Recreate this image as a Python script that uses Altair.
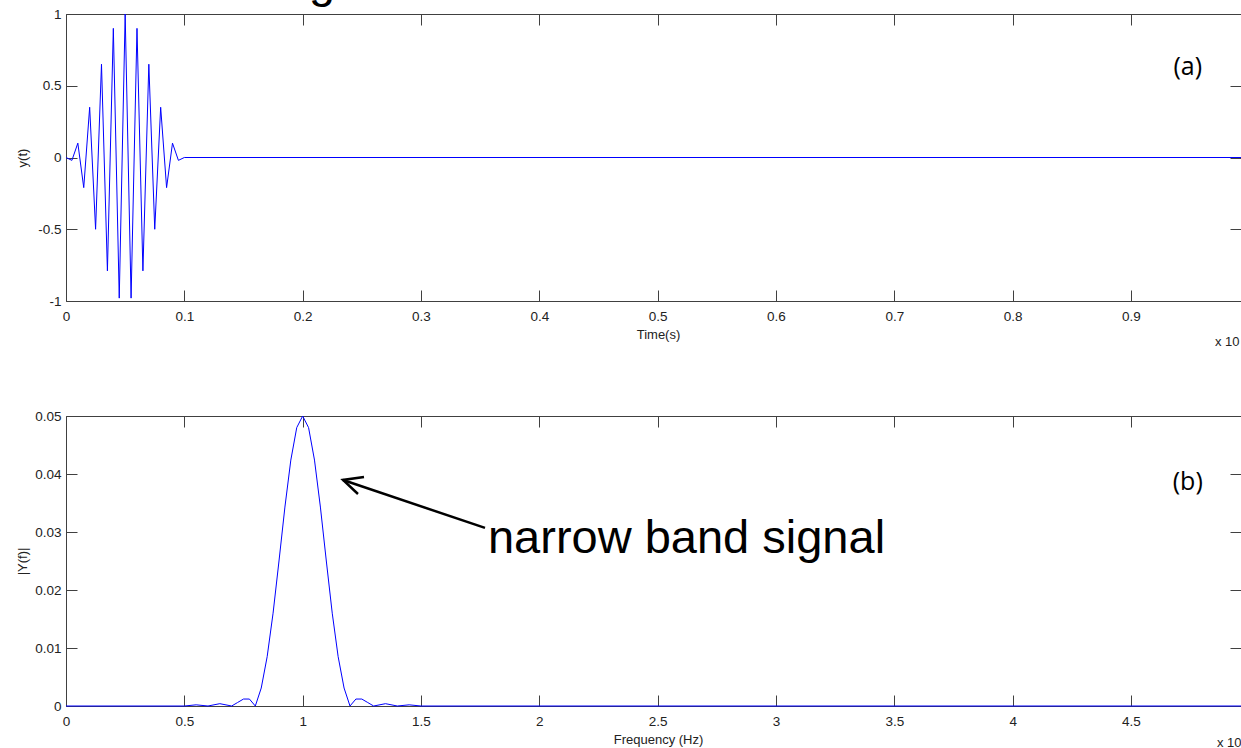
import altair as alt
import pandas as pd

FONT = "Liberation Sans"

# ---------------- data: panel (a) time signal ----------------
time_s = [0.0, 0.005, 0.01, 0.015, 0.02, 0.025, 0.03, 0.035, 0.04, 0.045, 0.05,
          0.055, 0.06, 0.065, 0.07, 0.075, 0.08, 0.085, 0.09, 0.095, 0.1, 0.993]
y_t = [0.0, -0.02, 0.1, -0.21, 0.35, -0.5, 0.65, -0.79, 0.9, -0.98, 1.0,
       -0.98, 0.9, -0.79, 0.65, -0.5, 0.35, -0.21, 0.1, -0.02, 0.0, 0.0]

# ---------------- data: panel (b) spectrum ----------------
freq_hz = [0.0, 0.5, 0.55, 0.6, 0.65, 0.7, 0.725, 0.75, 0.775, 0.8, 0.825, 0.85, 0.875,
           0.9, 0.925, 0.95, 0.975, 1.0, 1.025, 1.05, 1.075, 1.1, 1.125, 1.15,
           1.175, 1.2, 1.225, 1.25, 1.275, 1.3, 1.35, 1.4, 1.45, 1.5, 4.965]
mag_y = [0.0, 0.0, 0.0002, 0.0, 0.0004, 0.0, 0.0006, 0.0012, 0.0012, 0.0, 0.0031, 0.0085, 0.016,
         0.025, 0.0343, 0.0424, 0.048, 0.05, 0.048, 0.0424, 0.0343, 0.025, 0.016, 0.0085,
         0.0031, 0.0, 0.0012, 0.0012, 0.0006, 0.0, 0.0004, 0.0, 0.0002, 0.0, 0.0]

# tick values
time_ticks = [0, 0.1, 0.2, 0.3, 0.4, 0.5, 0.6, 0.7, 0.8, 0.9]
yt_ticks = [-1, -0.5, 0, 0.5, 1]
freq_ticks = [0, 0.5, 1, 1.5, 2, 2.5, 3, 3.5, 4, 4.5]
mag_ticks = [0, 0.01, 0.02, 0.03, 0.04, 0.05]

# annotations (data coordinates)
ann_a_label = {"x": [0.948], "y": [0.631], "text": ["(a)"]}
ann_a_exp = {"x": [0.971], "y": [-1.286], "text": ["x 10"]}
ann_a_title = {"x": [0.2163], "y": [1.1185], "text": ["g"]}
ann_b_label = {"x": [4.74], "y": [0.0386], "text": ["(b)"]}
ann_b_exp = {"x": [4.8635], "y": [-0.00638], "text": ["x 10"]}
ann_b_note = {"x": [1.783], "y": [0.0264], "text": ["narrow band signal"]}
arrow_x = [1.7705, 1.1705, 1.2592, 1.1705, 1.2338]
arrow_y = [0.0307, 0.03897, 0.03948, 0.03897, 0.03655]
arrow_grp = ["shaft", "shaft", "head", "head", "head"]
arrow_ord = [0, 1, 0, 1, 2]

# layout
W = 1175
H = 692
A_BOT = 287   # bottom of panel (a) in plot px
B_TOP = 402   # top of panel (b) in plot px
TICK = 11

AX_COL = "#404040"
LBL_COL = "#222222"

base = dict(grid=False, labelFont=FONT, labelFontSize=13.5, labelColor=LBL_COL,
            titleFont=FONT, titleFontSize=13, titleFontWeight="normal", titleColor=LBL_COL,
            domainColor=AX_COL, tickColor=AX_COL, domainWidth=1, tickWidth=1,
            labelFlush=False, labelOverlap=False)


def label_axis_x(orient, offset, values, title, domain):
    return alt.Axis(orient=orient, offset=offset, values=values, ticks=False, tickSize=0,
                    domain=domain, labelPadding=8, labelExpr="'' + datum.value",
                    title=title, titleX=592, titleY=33, titleBaseline="middle",
                    titleAlign="center", **base)


def label_axis_y(values, title, title_y):
    return alt.Axis(orient="left", offset=0, values=values, ticks=False, tickSize=0,
                    domain=True, labelPadding=5, labelExpr="'' + datum.value",
                    title=title, titleX=-44, titleY=title_y, titleAngle=270,
                    titleBaseline="middle", titleAlign="center", **base)


def tick_axis(orient, offset, values, domain):
    return alt.Axis(orient=orient, offset=offset, values=values, ticks=True, tickSize=TICK,
                    domain=domain, labels=False, title=None, **base)


# ---------------- panel (a) ----------------
xsa = alt.Scale(domain=[0, 0.993], nice=False, zero=False)
ysa = alt.Scale(domain=[-1, 1], range=[A_BOT, 0], nice=False, zero=False)

line_a = alt.Chart(pd.DataFrame({"t": time_s, "y": y_t})).mark_line(
    color="#0000ff", strokeWidth=1).encode(
    x=alt.X("t:Q", scale=xsa, axis=label_axis_x("bottom", -(H - A_BOT), time_ticks, "Time(s)", False)),
    y=alt.Y("y:Q", scale=ysa, axis=label_axis_y(yt_ticks, "y(t)", A_BOT / 2)),
)

lab_a = alt.Chart(pd.DataFrame(ann_a_label)).mark_text(
    font="Open Sans", fontSize=25, color="black", align="center", baseline="middle").encode(
    x=alt.X("x:Q", scale=xsa, axis=tick_axis("bottom", -H, time_ticks, True)),
    y=alt.Y("y:Q", scale=ysa, axis=tick_axis("right", -W, yt_ticks, False)),
    text="text:N",
)

exp_a = alt.Chart(pd.DataFrame(ann_a_exp)).mark_text(
    font=FONT, fontSize=13, color=LBL_COL, align="left", baseline="middle").encode(
    x=alt.X("x:Q", scale=xsa, axis=tick_axis("top", -A_BOT, time_ticks, True)),
    y=alt.Y("y:Q", scale=ysa, axis=tick_axis("left", -W, yt_ticks, False)),
    text="text:N",
)

title_a = alt.Chart(pd.DataFrame(ann_a_title)).mark_text(
    font=FONT, fontSize=47, color="black", align="center", baseline="alphabetic").encode(
    x=alt.X("x:Q", scale=xsa, axis=None),
    y=alt.Y("y:Q", scale=ysa, axis=None),
    text="text:N",
)

panel_a = alt.layer(line_a, lab_a, exp_a, title_a).resolve_axis(x="independent", y="independent")

# ---------------- panel (b) ----------------
xsb = alt.Scale(domain=[0, 4.965], nice=False, zero=False)
ysb = alt.Scale(domain=[0, 0.05], range=[H, B_TOP], nice=False, zero=False)

line_b = alt.Chart(pd.DataFrame({"f": freq_hz, "m": mag_y})).mark_line(
    color="#0000ff", strokeWidth=1).encode(
    x=alt.X("f:Q", scale=xsb, axis=label_axis_x("bottom", 0, freq_ticks, "Frequency (Hz)", True)),
    y=alt.Y("m:Q", scale=ysb, axis=label_axis_y(mag_ticks, "|Y(f)|", (H + B_TOP) / 2)),
)

lab_b = alt.Chart(pd.DataFrame(ann_b_label)).mark_text(
    font="Open Sans", fontSize=25, color="black", align="center", baseline="middle").encode(
    x=alt.X("x:Q", scale=xsb, axis=tick_axis("bottom", -(H - B_TOP), freq_ticks, True)),
    y=alt.Y("y:Q", scale=ysb, axis=tick_axis("right", -W, mag_ticks, False)),
    text="text:N",
)

exp_b = alt.Chart(pd.DataFrame(ann_b_exp)).mark_text(
    font=FONT, fontSize=13, color=LBL_COL, align="left", baseline="middle").encode(
    x=alt.X("x:Q", scale=xsb, axis=tick_axis("top", -H, freq_ticks, False)),
    y=alt.Y("y:Q", scale=ysb, axis=tick_axis("left", -W, mag_ticks, False)),
    text="text:N",
)

note_b = alt.Chart(pd.DataFrame(ann_b_note)).mark_text(
    font=FONT, fontSize=47, color="black", align="left", baseline="alphabetic").encode(
    x=alt.X("x:Q", scale=xsb, axis=None),
    y=alt.Y("y:Q", scale=ysb, axis=None),
    text="text:N",
)

arrow_b = alt.Chart(pd.DataFrame({"x": arrow_x, "y": arrow_y, "g": arrow_grp, "o": arrow_ord})).mark_line(
    color="black", strokeWidth=2.5).encode(
    x=alt.X("x:Q", scale=xsb, axis=None),
    y=alt.Y("y:Q", scale=ysb, axis=None),
    detail="g:N",
    order="o:Q",
)

panel_b = alt.layer(line_b, lab_b, exp_b, note_b, arrow_b).resolve_axis(x="independent", y="independent")

chart = alt.layer(panel_a, panel_b).resolve_scale(
    x="independent", y="independent"
).properties(
    width=W, height=H,
    padding={"left": 66, "top": 14, "right": 0, "bottom": 42},
    autosize=alt.AutoSizeParams(type="none"),
    background="white",
).configure_view(stroke=None)

chart.save("out.html", embed_options={"renderer": "svg", "actions": False})
